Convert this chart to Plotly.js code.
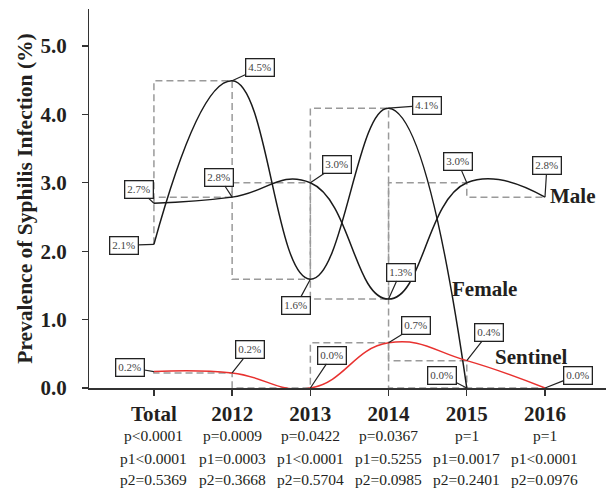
<!DOCTYPE html>
<html>
<head>
<meta charset="utf-8">
<script src="https://cdn.plot.ly/plotly-3.0.1.min.js"></script>
<style>html,body{margin:0;padding:0;background:#fff;}#chart{width:606px;height:496px;}</style>
</head>
<body>
<div id="chart"></div>
<script>
// ---- data ----
const categories = ['Total', '2012', '2013', '2014', '2015', '2016'];
const male = [2.70, 2.79, 3.00, 1.30, 3.00, 2.79];
const female = [2.10, 4.49, 1.59, 4.09, 0.00];
const sentinel = [0.24, 0.22, 0.00, 0.66, 0.40, 0.00];
const yTickVals = [0, 1, 2, 3, 4, 5];
const pValues = ['p&lt;0.0001', 'p=0.0009', 'p=0.0422', 'p=0.0367', 'p=1', 'p=1'];
const p1Values = ['p1&lt;0.0001', 'p1=0.0003', 'p1&lt;0.0001', 'p1=0.5255', 'p1=0.0017', 'p1&lt;0.0001'];
const p2Values = ['p2=0.5369', 'p2=0.3668', 'p2=0.5704', 'p2=0.0985', 'p2=0.2401', 'p2=0.0976'];

// ---- label box offsets (pixels, box centre relative to point) ----
const maleOff = [[-15, -14], [-13, -20], [27, -18], [12, -27], [-9, -21], [2, -32]];
const femaleOff = [[-30, 1], [28, -13], [-14, 26], [38, -3], [-25, -13]];
const sentinelOff = [[-24, -4], [18, -23], [22, -33], [27, -17], [22, -28], [33, -13]];

const SERIF = 'Liberation Serif, Times New Roman, serif';
const dashStyle = {color: '#9a9a9a', width: 1.5, dash: '7px,4px', shape: 'vh'};

function idx(arr) { return arr.map((_, i) => i); }

const traces = [
  {x: idx(male), y: male, mode: 'lines', line: dashStyle, hoverinfo: 'skip'},
  {x: idx(female), y: female, mode: 'lines', line: dashStyle, hoverinfo: 'skip'},
  {x: idx(sentinel), y: sentinel, mode: 'lines', line: dashStyle, hoverinfo: 'skip'},
  {x: idx(male), y: male, mode: 'lines', line: {color: '#1a1a1a', width: 1.5, shape: 'spline', smoothing: 1.3}, hoverinfo: 'skip'},
  {x: idx(female), y: female, mode: 'lines', line: {color: '#1a1a1a', width: 1.5, shape: 'spline', smoothing: 1.3}, hoverinfo: 'skip'},
  {x: idx(sentinel), y: sentinel, mode: 'lines', line: {color: '#e8312f', width: 1.5, shape: 'spline', smoothing: 1.3}, hoverinfo: 'skip'}
];

const annotations = [];
function addLabels(vals, offs) {
  vals.forEach((v, i) => {
    annotations.push({
      x: i, y: v, xref: 'x', yref: 'y',
      text: v.toFixed(1) + '%',
      showarrow: true, arrowhead: 0, arrowwidth: 1.2, arrowcolor: '#222',
      ax: offs[i][0], ay: offs[i][1], standoff: 0,
      bgcolor: '#fff', bordercolor: '#222', borderwidth: 1.3, borderpad: 2,
      font: {family: SERIF, size: 11, color: '#444'}
    });
  });
}
addLabels(male, maleOff);
addLabels(female, femaleOff);
addLabels(sentinel, sentinelOff);

// series names
[['Male', 5.04, 2.81], ['Female', 3.785, 1.45], ['Sentinel', 4.335, 0.45]].forEach(s => {
  annotations.push({
    x: s[1], y: s[2], xref: 'x', yref: 'y', text: '<b>' + s[0] + '</b>',
    showarrow: false, xanchor: 'left', yanchor: 'middle',
    font: {family: SERIF, size: 21, color: '#231f20'}
  });
});

// p-values below axis
const rows = [pValues, p1Values, p2Values];
const rowY = [-0.1266, -0.1847, -0.2427];
rows.forEach((row, r) => {
  row.forEach((t, i) => {
    annotations.push({
      x: i, y: rowY[r], xref: 'x', yref: 'paper', text: t,
      showarrow: false, xanchor: 'center', yanchor: 'middle',
      font: {family: SERIF, size: 15.5, color: '#231f20'}
    });
  });
});

const layout = {
  width: 606, height: 496,
  margin: {l: 89, r: 0, t: 9, b: 108},
  paper_bgcolor: '#fff', plot_bgcolor: '#fff',
  showlegend: false,
  font: {family: SERIF, color: '#231f20'},
  xaxis: {
    range: [-0.83, 5.78], showgrid: false, zeroline: false,
    showline: true, linecolor: '#333', linewidth: 1.5,
    ticks: 'outside', ticklen: 6, tickwidth: 1.3, tickcolor: '#333',
    tickvals: idx(categories), ticktext: categories.map(c => '<b>' + c + '</b>'),
    tickfont: {family: SERIF, size: 21, color: '#231f20'},
    fixedrange: true
  },
  yaxis: {
    range: [0, 5.54], showgrid: false, zeroline: false,
    showline: true, linecolor: '#333', linewidth: 1.5,
    ticks: 'outside', ticklen: 6, tickwidth: 1.3, tickcolor: '#333',
    tickvals: yTickVals, ticktext: yTickVals.map(v => '<b>' + v.toFixed(1) + '</b>\u2002'),
    tickfont: {family: SERIF, size: 21, color: '#231f20'},
    title: {text: '<b>Prevalence of Syphilis Infection (%)</b>', font: {family: SERIF, size: 21.5, color: '#231f20'}, standoff: 2},
    fixedrange: true
  },
  annotations: annotations
};

Plotly.newPlot('chart', traces, layout, {staticPlot: true, displayModeBar: false});
</script>
</body>
</html>
